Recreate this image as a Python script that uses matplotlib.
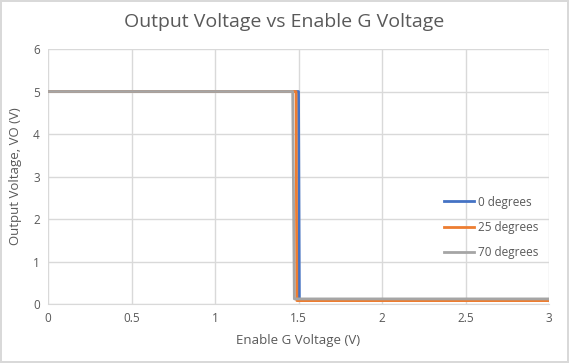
import matplotlib.pyplot as plt

# enable voltage sweep points (V) and output voltage (V) per temperature
x_0 = [0, 1.50, 1.505, 3]
y_0 = [5, 5, 0.10, 0.10]
x_25 = [0, 1.485, 1.49, 3]
y_25 = [5, 5, 0.08, 0.08]
x_70 = [0, 1.465, 1.475, 3]
y_70 = [5, 5, 0.12, 0.12]

labels = ["0 degrees", "25 degrees", "70 degrees"]
colors = ["#4472C4", "#ED7D31", "#A5A5A5"]
xticks = [0, 0.5, 1, 1.5, 2, 2.5, 3]
yticks = [0, 1, 2, 3, 4, 5, 6]

plt.rcParams['font.family'] = ['Open Sans', 'DejaVu Sans']
txt = "#595959"

fig = plt.figure(figsize=(5.69, 3.63), dpi=100)
fig.patch.set_edgecolor("#d9d9d9")
fig.patch.set_linewidth(1.5)
ax = fig.add_axes([0.0844, 0.1625, 0.8805, 0.7025])

ax.plot(x_0, y_0, color=colors[0], lw=2, label=labels[0])
ax.plot(x_25, y_25, color=colors[1], lw=2, label=labels[1])
ax.plot(x_70, y_70, color=colors[2], lw=2, label=labels[2])

ax.set_xlim(0, 3)
ax.set_ylim(0, 6)
ax.set_xticks(xticks)
ax.set_xticklabels(["0", "0.5", "1", "1.5", "2", "2.5", "3"])
ax.set_yticks(yticks)
ax.grid(True, color="#d9d9d9", lw=1)
ax.set_axisbelow(True)
for s in ["top", "right", "left"]:
    ax.spines[s].set_visible(False)
ax.spines["bottom"].set_color("#d9d9d9")
ax.tick_params(length=0, colors=txt, labelsize=8.5, pad=6)

fig.suptitle("Output Voltage vs Enable G Voltage", color=txt, fontsize=14, x=0.5, y=0.965)
ax.set_xlabel("Enable G Voltage (V)", color=txt, fontsize=9.5, labelpad=6)
ax.set_ylabel("Output Voltage, VO (V)", color=txt, fontsize=9.5, labelpad=8)

leg = ax.legend(loc="center right", bbox_to_anchor=(1.0, 0.30), frameon=False,
                fontsize=8.5, handlelength=2.6, handletextpad=0.3, labelspacing=1.05)
for t in leg.get_texts():
    t.set_color(txt)

fig.savefig("out.png", dpi=100, edgecolor=fig.get_edgecolor())
